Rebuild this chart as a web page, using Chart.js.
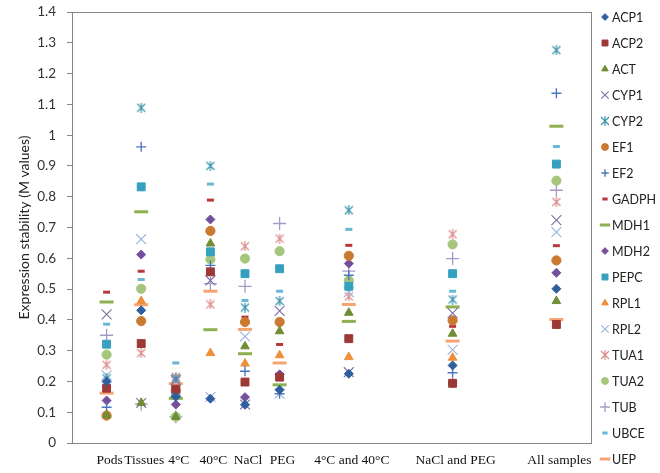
<!DOCTYPE html>
<html>
<head>
<meta charset="utf-8">
<script src="https://cdn.jsdelivr.net/npm/chart.js@4/dist/chart.umd.min.js"></script>
<style>
  body { margin: 0; background: #fff; }
  canvas { display: block; }
</style>
</head>
<body>
<canvas id="chart" width="660" height="473"></canvas>
<script>
// categories and where they sit on the x axis (gaps between groups)
const categories = ["Pods", "Tissues", "4°C", "40°C", "NaCl", "PEG", "4°C and 40°C", "NaCl and PEG", "All samples"];
const xPos = [1, 2, 3, 4, 5, 6, 8, 11, 14];

// M values per gene, same order as categories
const ACP1  = [0.200, 0.431, 0.150, 0.144, 0.124, 0.173, 0.225, 0.252, 0.501];
const ACP2  = [0.178, 0.323, 0.175, 0.556, 0.198, 0.214, 0.339, 0.194, 0.385];
const ACT   = [0.090, 0.130, 0.085, 0.648, 0.314, 0.363, 0.423, 0.355, 0.461];
const CYP1  = [0.418, 0.130, 0.205, 0.528, 0.125, 0.429, 0.230, 0.422, 0.724];
const CYP2  = [0.210, 1.089, 0.210, 0.900, 0.440, 0.461, 0.756, 0.466, 1.276];
const EF1   = [0.089, 0.396, 0.170, 0.689, 0.393, 0.393, 0.608, 0.398, 0.593];
const EF2   = [0.116, 0.962, 0.150, 0.577, 0.233, 0.160, 0.545, 0.228, 1.136];
const GADPH = [0.490, 0.558, 0.180, 0.789, 0.409, 0.320, 0.642, 0.379, 0.641];
const MDH1  = [0.458, 0.751, 0.145, 0.368, 0.290, 0.189, 0.395, 0.442, 1.029];
const MDH2  = [0.138, 0.612, 0.125, 0.726, 0.149, 0.223, 0.583, 0.195, 0.553];
const PEPC  = [0.321, 0.832, 0.165, 0.621, 0.550, 0.566, 0.509, 0.550, 0.906];
const RPL1  = [0.092, 0.461, 0.160, 0.292, 0.258, 0.285, 0.279, 0.277, 0.385];
const RPL2  = [0.220, 0.662, 0.200, 0.150, 0.346, 0.160, 0.490, 0.303, 0.685];
const TUA1  = [0.254, 0.292, 0.215, 0.450, 0.639, 0.664, 0.476, 0.678, 0.783];
const TUA2  = [0.287, 0.501, 0.085, 0.596, 0.599, 0.623, 0.528, 0.645, 0.852];
const TUB   = [0.350, 0.127, 0.085, 0.518, 0.509, 0.713, 0.558, 0.599, 0.821];
const UBCE  = [0.386, 0.531, 0.260, 0.841, 0.463, 0.493, 0.694, 0.493, 0.963];
const UEP   = [0.162, 0.449, 0.193, 0.493, 0.369, 0.260, 0.450, 0.331, 0.401];

const genes = ["ACP1", "ACP2", "ACT", "CYP1", "CYP2", "EF1", "EF2", "GADPH", "MDH1",
  "MDH2", "PEPC", "RPL1", "RPL2", "TUA1", "TUA2", "TUB", "UBCE", "UEP"];
const values = [ACP1, ACP2, ACT, CYP1, CYP2, EF1, EF2, GADPH, MDH1,
  MDH2, PEPC, RPL1, RPL2, TUA1, TUA2, TUB, UBCE, UEP];

// excel-ish asterisk marker: x with a vertical stroke
function makeStar(color, size) {
  const c = document.createElement("canvas");
  c.width = size; c.height = size;
  const g = c.getContext("2d");
  g.strokeStyle = color;
  g.lineWidth = 1.2;
  const m = 1, e = size - 1, h = size / 2;
  g.beginPath();
  g.moveTo(m, m); g.lineTo(e, e);
  g.moveTo(e, m); g.lineTo(m, e);
  g.moveTo(h, 0); g.lineTo(h, size);
  g.stroke();
  return c;
}

const markers = {
  ACP1:  { color: "#2f5f9e", style: "rectRot", r: 4.5, bw: 1 },
  ACP2:  { color: "#9c3936", style: "rect", r: 5.6, bw: 1 },
  ACT:   { color: "#6f8e35", style: "triangle", r: 5, bw: 1 },
  CYP1:  { color: "#7d6fa3", style: "crossRot", r: 7, bw: 1.1 },
  CYP2:  { color: "#3a95ab", style: makeStar("#3a95ab", 10), r: 5, bw: 1 },
  EF1:   { color: "#c97a30", style: "circle", r: 4.6, bw: 1 },
  EF2:   { color: "#4a78c0", style: "cross", r: 5, bw: 1.4 },
  GADPH: { color: "#b8383a", style: "line", r: 3.5, bw: 3 },
  MDH1:  { color: "#8fb050", style: "line", r: 7, bw: 3 },
  MDH2:  { color: "#74509c", style: "rectRot", r: 4.5, bw: 1 },
  PEPC:  { color: "#36a0bf", style: "rect", r: 5.6, bw: 1 },
  RPL1:  { color: "#ee8f3c", style: "triangle", r: 5, bw: 1 },
  RPL2:  { color: "#9bb2dc", style: "crossRot", r: 7, bw: 1.1 },
  TUA1:  { color: "#dc8b8b", style: makeStar("#dc8b8b", 10), r: 5, bw: 1 },
  TUA2:  { color: "#a6c67e", style: "circle", r: 4.6, bw: 1 },
  TUB:   { color: "#a898c8", style: "cross", r: 6.5, bw: 1.3 },
  UBCE:  { color: "#68b8d4", style: "line", r: 3.5, bw: 3 },
  UEP:   { color: "#f5a472", style: "line", r: 7, bw: 3 },
};

const datasets = genes.map((g, i) => ({
  label: g,
  data: values[i].map((v, j) => ({ x: xPos[j], y: v })),
  pointStyle: markers[g].style,
  pointRadius: markers[g].r,
  pointBorderWidth: markers[g].bw,
  backgroundColor: markers[g].color,
  borderColor: markers[g].color,
  showLine: false,
}));

// plot frame (top + right sides like the original)
const frame = {
  id: "frame",
  beforeDatasetsDraw(chart) {
    const { ctx, chartArea: a } = chart;
    ctx.save();
    ctx.strokeStyle = "#868686";
    ctx.lineWidth = 1;
    ctx.strokeRect(a.left + 0.5, a.top + 0.5, a.right - a.left, a.bottom - a.top);
    ctx.restore();
  },
};

// legend on the right, one row per gene
const sideLegend = {
  id: "sideLegend",
  afterDraw(chart) {
    const { ctx } = chart;
    ctx.save();
    ctx.font = "12.5px Lato";
    ctx.textBaseline = "middle";
    genes.forEach((g, i) => {
      const m = markers[g];
      const y = 17 + i * 26;
      ctx.fillStyle = m.color;
      ctx.strokeStyle = m.color;
      ctx.lineWidth = m.bw;
      Chart.helpers.drawPoint(ctx, { pointStyle: m.style, radius: m.r * 0.75, borderWidth: m.bw, rotation: 0 }, 605, y);
      ctx.fillStyle = "#222";
      ctx.fillText(g, 612, y + 1);
    });
    ctx.restore();
  },
};

new Chart(document.getElementById("chart").getContext("2d"), {
  type: "scatter",
  data: { datasets },
  options: {
    responsive: false,
    animation: false,
    layout: { padding: { top: 12, right: 69, left: 0, bottom: 0 } },
    plugins: { legend: { display: false }, tooltip: { enabled: false } },
    scales: {
      x: {
        type: "linear",
        min: 0,
        max: 15,
        afterBuildTicks: (ax) => { ax.ticks = xPos.map((v) => ({ value: v })); },
        afterFit: (ax) => { ax.height = 30; },
        ticks: {
          autoSkip: false,
          maxRotation: 0,
          padding: 9,
          labelOffset: 3,
          color: "#111",
          font: { family: "Liberation Serif", size: 13.5 },
          callback: (v) => categories[xPos.indexOf(v)] ?? "",
        },
        grid: { display: false, drawTicks: false },
        border: { color: "#868686", width: 1 },
      },
      y: {
        min: 0,
        max: 1.4,
        afterFit: (ax) => {
          ax.width = 72;
          // tick padding would otherwise push the plot top down
          ax.paddingTop = 0;
          ax.paddingBottom = 0;
        },
        ticks: {
          stepSize: 0.1,
          padding: 11,
          color: "#333",
          font: { family: "Lato", size: 13.5 },
          callback: (v) => String(+v.toFixed(1)),
        },
        grid: { display: true, drawOnChartArea: false, drawTicks: true, tickLength: 5, color: "#868686" },
        border: { color: "#868686", width: 1 },
        title: {
          display: true,
          text: "Expression stability (M values)",
          color: "#222",
          font: { family: "Lato", size: 14 },
          padding: { top: 16, bottom: 0 },
        },
      },
    },
  },
  plugins: [frame, sideLegend],
});
</script>
</body>
</html>
